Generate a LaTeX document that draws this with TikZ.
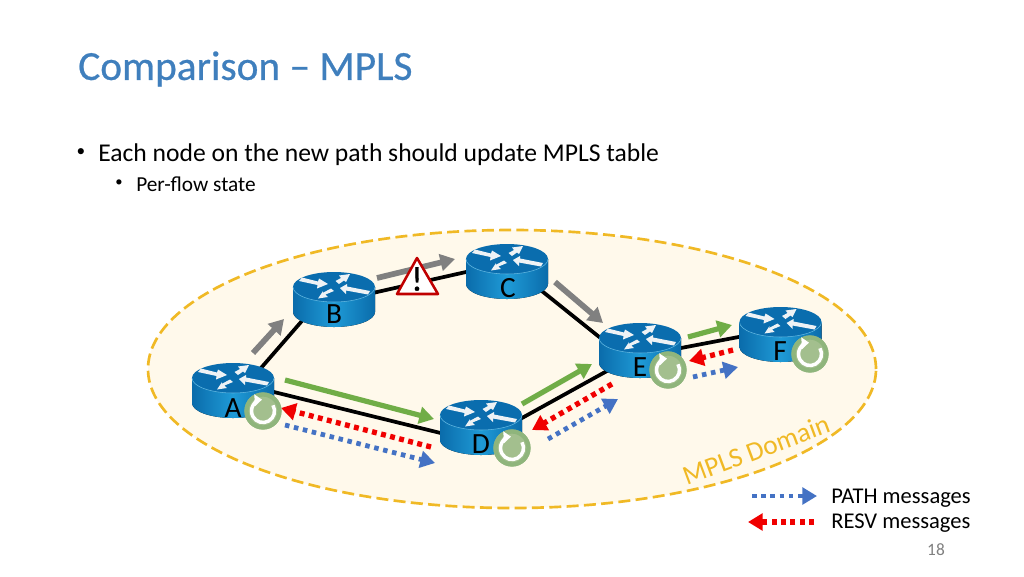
\documentclass[tikz,border=0pt]{standalone}
\usepackage{fontspec}
\setmainfont{Carlito}
\newfontfamily\titlefont[FakeBold=0.6]{Carlito}
\newfontfamily\warnfont[FakeBold=1]{Carlito}
\usetikzlibrary{arrows.meta,calc}
\definecolor{titleblue}{HTML}{3F7FBD}
\definecolor{domainfill}{HTML}{FFF9EB}
\definecolor{domainline}{HTML}{F0B925}
\definecolor{pathblue}{HTML}{4472C4}
\definecolor{resvred}{HTML}{F00000}
\definecolor{flowgreen}{HTML}{70AD47}
\definecolor{flowgray}{HTML}{808080}
\definecolor{routertop}{HTML}{0A6DAE}
\definecolor{routerdark}{HTML}{0A6CAB}
\definecolor{routerlight}{HTML}{1F9AD6}
\definecolor{ringgreen}{HTML}{8FB57C}
\definecolor{coregreen}{HTML}{A3BF8E}
\definecolor{warnred}{HTML}{C00000}
\definecolor{arrowwhite}{HTML}{EEF2F5}
\tikzset{
  routerbox/.style={minimum width=61.5pt,minimum height=40.5pt,inner sep=0pt,outer sep=0pt},
  rlabel/.style={font=\fontsize{22}{22}\selectfont,inner sep=0pt,text=black},
  link/.style={line width=2.8pt,black},
  msgbase/.style={-{Triangle[length=11pt,width=12.5pt]}},
  grayflow/.style={msgbase,line width=4.3pt,flowgray},
  greenflow/.style={msgbase,line width=3.9pt,flowgreen},
  pathmsg/.style={msgbase,line width=3.6pt,pathblue,dash pattern=on 3.4pt off 3.5pt},
  resvmsg/.style={msgbase,line width=4pt,resvred,dash pattern=on 3.7pt off 3.3pt},
  refreshicon/.pic={
    \fill[coregreen] (0,0) circle[radius=18.5];
    \draw[ringgreen,line width=3.2pt] (0,0) circle[radius=16.5];
    \draw[white,line width=2.6pt,-{Triangle[length=5.5pt,width=8.5pt]}]
      (30:8.6pt) arc[start angle=30,end angle=-265,radius=8.6pt];
  },
  routerpic/.pic={
    \fill[left color=routerdark,right color=routerdark,middle color=routerlight]
      (-41,0) -- (-41,25) arc[start angle=180,end angle=360,x radius=30.75pt,y radius=11.25pt] -- (41,0) -- cycle;
    \fill[routertop] (0,0) ellipse[x radius=30.75pt,y radius=11.25pt];
    \draw[routerlight!70!white,line width=0.4pt] (-41,0) arc[start angle=180,end angle=360,x radius=30.75pt,y radius=11.25pt];
    \fill[arrowwhite] (-32,-9.5) -- (-16,-5.5) -- (-15,-8.5) -- (-6,-3) -- (-17,1.5) -- (-16.5,-2) -- (-35,-6) -- cycle;
    \fill[arrowwhite] (6,1) -- (13,-3) -- (13,-0.5) -- (36,4) -- (34,7.5) -- (12,3.5) -- (12,7) -- cycle;
    \fill[arrowwhite] (16,-13) -- (12,-5) -- (10,-6.5) -- (5,-3) -- (1.5,-6) -- (7,-9) -- (5,-11.5) -- cycle;
    \fill[arrowwhite] (-16,11.5) -- (-6,10) -- (-8.5,7.5) -- (0,4) -- (-3,1.5) -- (-11.5,6) -- (-11,4) -- cycle;
  },
}
\newcommand{\msgarrow}[4]{\coordinate (#2s) at (#3);\coordinate (#2e) at (#4);\draw[#1] (#2s) -- (#2e);}
\begin{document}
\begin{tikzpicture}[x=0.75pt,y=-0.75pt]
\useasboundingbox (0,0) rectangle (1024,576);
\fill[white] (0,0) rectangle (1024,576);
% domain
\node[draw=none,minimum size=0pt,inner sep=0pt] (domain) at (512,369) {};
\draw[fill=domainfill,draw=domainline,line width=2pt,dash pattern=on 9pt off 4pt]
  (domain) ellipse[x radius=273pt,y radius=104.25pt];
% texts
\node[anchor=west,inner sep=0pt,text=titleblue,font=\titlefont\fontsize{31}{31}\selectfont] (title) at (78,69) {Comparison – MPLS};
\node[anchor=center,inner sep=0pt,font=\fontsize{13}{13}\selectfont] (b1) at (81,153) {•};
\node[anchor=west,inner sep=0pt,font=\fontsize{19.2}{19.2}\selectfont] (t1) at (98,154.5) {Each node on the new path should update MPLS table};
\node[anchor=center,inner sep=0pt,font=\fontsize{11}{11}\selectfont] (b2) at (119,183) {•};
\node[anchor=west,inner sep=0pt,font=\fontsize{16}{16}\selectfont] (t2) at (136,184) {Per-flow state};
\node[rotate=20.5,text=domainline,inner sep=0pt,font=\fontsize{20.5}{20.5}\selectfont] (dom) at (756,450) {MPLS Domain};
% router anchors
\node[routerbox] (A) at (233,391) {};
\node[routerbox] (B) at (334,299) {};
\node[routerbox] (C) at (507,272) {};
\node[routerbox] (D) at (481,428) {};
\node[routerbox] (E) at (640,351) {};
\node[routerbox] (F) at (780.5,335) {};
% links
\draw[link] ([xshift=6pt]A.center) -- ([xshift=-9.75pt]B.center);
\draw[link] ([yshift=-2pt]B.center) -- ([yshift=6.9pt]C.center);
\draw[link] ([yshift=6.8pt]A.center) -- ([yshift=-11.2pt]D.center);
\draw[link] ([yshift=6.7pt]C.center) -- ([yshift=-14pt]E.center);
\draw[link] ([yshift=-9.5pt]D.center) -- ([yshift=-1.3pt]E.center);
\draw[link] ([yshift=-3.6pt]E.center) -- ([yshift=4.5pt]F.center);
% routers
\pic at (233,378) {routerpic};
\pic at (334,287) {routerpic};
\pic at (507,259) {routerpic};
\pic at (481,415) {routerpic};
\pic at (640,338) {routerpic};
\pic at (780.5,322) {routerpic};
\node[rlabel] (Al) at (233,408) {A};
\node[rlabel] (Bl) at (334,314) {B};
\node[rlabel] (Cl) at (508,288) {C};
\node[rlabel] (Dl) at (481,444) {D};
\node[rlabel] (El) at (640,367) {E};
\node[rlabel] (Fl) at (780,351) {F};
% flows
\msgarrow{grayflow}{g1}{253,353}{284,319}
\msgarrow{grayflow}{g2}{377,278}{455,259}
\msgarrow{grayflow}{g3}{555,282}{603,323}
\msgarrow{greenflow}{v1}{285,380}{434,419}
\msgarrow{greenflow}{v2}{522,404}{592,364}
\msgarrow{greenflow}{v3}{688,337}{732,325}
\msgarrow{resvmsg}{r1}{431,447}{281,408}
\msgarrow{resvmsg}{r2}{612,384}{532,430}
\msgarrow{resvmsg}{r3}{733,350}{689,361}
\msgarrow{pathmsg}{p1}{285,425}{435,463}
\msgarrow{pathmsg}{p2}{548,439}{618,399}
\msgarrow{pathmsg}{p3}{693,377}{738,367}
% refresh
\pic at (263,411) {refreshicon};
\pic at (512,448) {refreshicon};
\pic at (668,370) {refreshicon};
\pic at (810,354) {refreshicon};
% warning
\draw[fill=white,draw=warnred,line width=1.9pt,line join=round] (397,294) -- (417,258) -- (438,294) -- cycle;
\node[inner sep=0pt,font=\warnfont\fontsize{26}{26}\selectfont] (warn) at (417,279) {!};
% legend
\msgarrow{pathmsg}{lp}{752,496}{817,496}
\msgarrow{resvmsg}{lr}{814,522}{748,522}
\node[anchor=west,inner sep=0pt,font=\fontsize{16.9}{16.9}\selectfont] (lt1) at (831,498) {PATH messages};
\node[anchor=west,inner sep=0pt,font=\fontsize{16.9}{16.9}\selectfont] (lt2) at (831,523) {RESV messages};
\node[inner sep=0pt,text=gray,font=\fontsize{13}{13}\selectfont] (pg) at (936,550) {18};
\end{tikzpicture}
\end{document}
